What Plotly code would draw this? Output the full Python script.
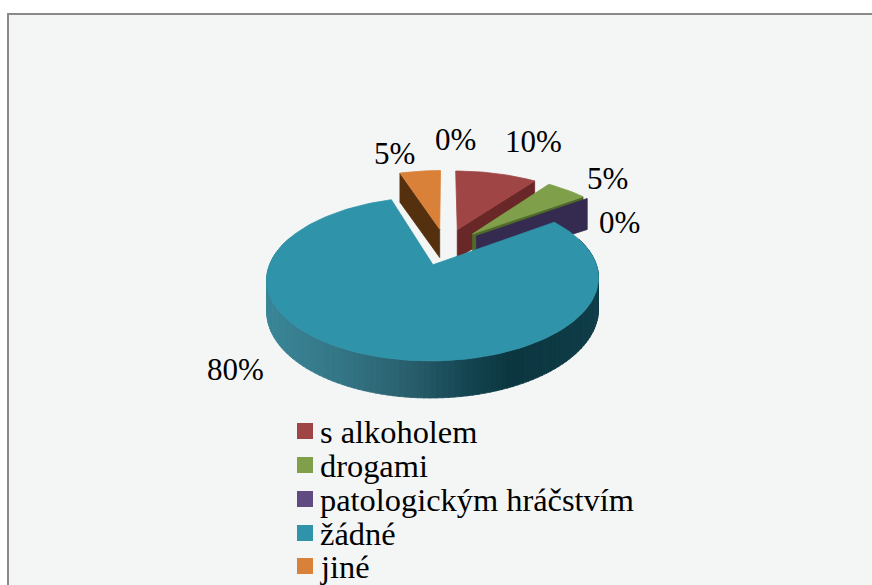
import math
import plotly.graph_objects as go

# ---- data ----
categories = ["s alkoholem", "drogami", "patologickým hráčstvím", "žádné", "jiné", ""]
values = [10, 5, 0, 80, 5, 0]
top_colors = ["#a04545", "#7f9f4b", "#5f4a82", "#2f93a9", "#d98139", "#4a7ebb"]
wall_colors = ["#6a2727", "#4f6a2a", "#352a4f", None, "#55300f", None]

# ---- layout constants ----
CX, CY, A, B, K, EXPLODE, DEPTH = 445.6, 246.6, 73.5, 157.0, 0.165, 0.25, 29.5
label_xy = [(533, 141), (607, 178), (619, 222), (235, 369), (394, 153), (455, 139)]
legend_rows = [431, 465, 499, 533, 566]
LABEL_FONT = "Liberation Serif"


def project(u, v, z=0.0):
    den = 1 + K * v
    return CX + B * u / den, CY - A * v / den + DEPTH * z / den


def point(theta, off, r=1.0, z=0.0):
    return project(off[0] + r * math.sin(theta), off[1] + r * math.cos(theta), z)


def poly(pts, color, line=None):
    return go.Scatter(
        x=[p[0] for p in pts] + [pts[0][0]],
        y=[p[1] for p in pts] + [pts[0][1]],
        mode="lines",
        fill="toself",
        fillcolor=color,
        line=dict(color=line or color, width=0.8),
        hoverinfo="skip",
        showlegend=False,
    )


total = sum(values)
slices = []
acc = 0.0
for v in values:
    a0 = 2 * math.pi * acc / total
    a1 = 2 * math.pi * (acc + v) / total
    mid = (a0 + a1) / 2
    off = (EXPLODE * math.sin(mid), EXPLODE * math.cos(mid))
    slices.append((a0, a1, off))
    acc += v


def top_face(i):
    a0, a1, off = slices[i]
    n = max(2, int((a1 - a0) / 0.03))
    pts = [point(0, off, 0.0)]
    pts += [point(a0 + (a1 - a0) * j / n, off) for j in range(n + 1)]
    return poly(pts, top_colors[i])


def cut_wall(angle, off, color):
    return poly(
        [point(0, off, 0.0), point(angle, off), point(angle, off, 1.0, 1.18), point(0, off, 0.0, 1.0)],
        color,
    )


def lerp_hex(c0, c1, t):
    a = [int(c0[i:i + 2], 16) for i in (1, 3, 5)]
    b = [int(c1[i:i + 2], 16) for i in (1, 3, 5)]
    return "#%02x%02x%02x" % tuple(round(a[i] + (b[i] - a[i]) * t) for i in range(3))


# wall shading along the rim, by screen x
shade_stops = [(267, "#3a8698"), (340, "#347686"), (410, "#295e6c"), (470, "#134450"), (510, "#0c3640"), (600, "#0f3d48")]


def shade(x):
    for (x0, c0), (x1, c1) in zip(shade_stops, shade_stops[1:]):
        if x <= x1:
            return lerp_hex(c0, c1, max(0, (x - x0) / (x1 - x0)))
    return shade_stops[-1][1]


fig = go.Figure()

# back slices first, each with its visible cut face
fig.add_trace(cut_wall(slices[4][0], slices[4][2], wall_colors[4]))
fig.add_trace(top_face(4))
fig.add_trace(cut_wall(slices[0][1], slices[0][2], wall_colors[0]))
fig.add_trace(top_face(0))
fig.add_trace(cut_wall(slices[1][1], slices[1][2], wall_colors[1]))
fig.add_trace(top_face(1))
fig.add_trace(cut_wall(slices[2][1], slices[2][2], wall_colors[2]))

# large slice: rim wall then top face
a0, a1, off = slices[3]
n = 160
for j in range(n):
    t0 = a0 + (a1 - a0) * j / n
    t1 = a0 + (a1 - a0) * (j + 1) / n + 0.004
    p0, p1 = point(t0, off), point(t1, off)
    if math.cos(t0) < 0.35:
        fig.add_trace(poly([p0, p1, point(t1, off, 1.0, 1.0), point(t0, off, 1.0, 1.0)], shade((p0[0] + p1[0]) / 2)))
fig.add_trace(top_face(3))

# percentage labels
for v, (x, y) in zip(values, label_xy):
    fig.add_annotation(
        x=x, y=y, text=f"{v}%", showarrow=False,
        font=dict(family=LABEL_FONT, size=31, color="#000000"),
        xanchor="center", yanchor="middle",
    )

# legend rows
for name, color, y in zip(categories[:5], top_colors[:5], legend_rows):
    fig.add_trace(go.Scatter(
        x=[305], y=[y], mode="markers",
        marker=dict(symbol="square", size=16, color=color),
        hoverinfo="skip", showlegend=False,
    ))
    fig.add_annotation(
        x=318, y=y + 1, text=name, showarrow=False,
        font=dict(family=LABEL_FONT, size=32.4, color="#000000"),
        xanchor="left", yanchor="middle",
    )

fig.update_layout(
    width=872, height=585,
    margin=dict(l=0, r=0, t=0, b=0),
    paper_bgcolor="#ffffff", plot_bgcolor="#ffffff",
    showlegend=False,
    xaxis=dict(range=[0, 872], visible=False, fixedrange=True),
    yaxis=dict(range=[585, 0], visible=False, fixedrange=True),
    shapes=[dict(type="rect", layer="below", x0=8, y0=14, x1=890, y1=600,
                 fillcolor="#f4f6f6", line=dict(color="#8a8a8a", width=2))],
)
fig.write_html(
    "out.html",
    config={"displayModeBar": False},
    post_script="document.body.style.margin='0';document.body.style.overflow='hidden';",
)
